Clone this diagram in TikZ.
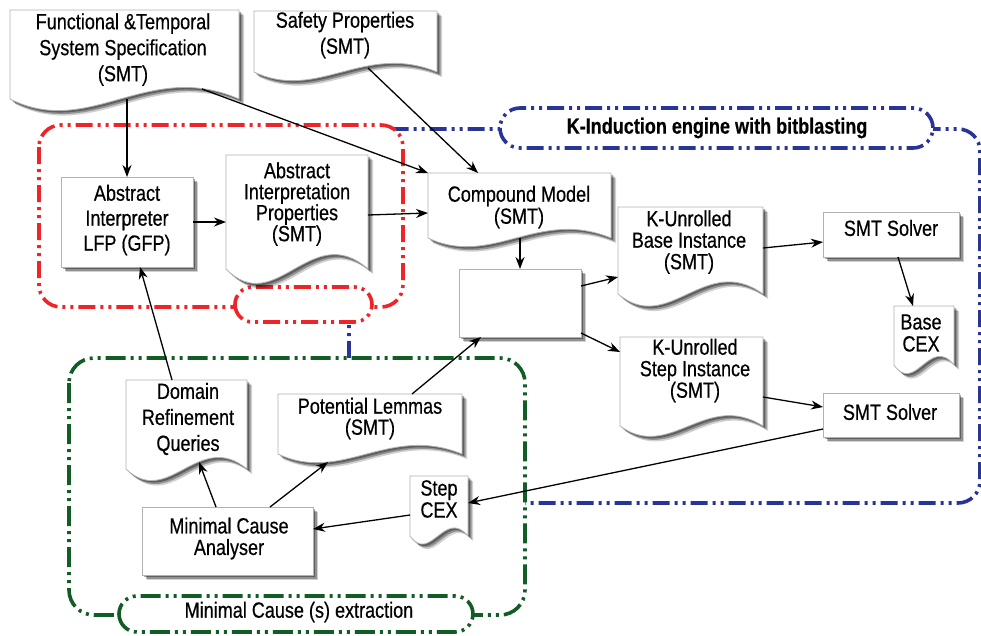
\documentclass[tikz,border=0pt]{standalone}
\usepackage{fontspec}
\setmainfont{Liberation Sans}[FakeStretch=0.82,FakeBold=0.5,BoldFeatures={FakeBold=0.4}]
\usetikzlibrary{shadows,arrows.meta,calc}
\pgfdeclarelayer{regions}
\pgfdeclarelayer{shapes}
\pgfsetlayers{regions,shapes,main}
\definecolor{regred}{RGB}{237,36,40}
\definecolor{regblue}{RGB}{40,52,150}
\definecolor{reggreen}{RGB}{18,92,38}
\tikzset{
  shp/.style={fill=white, draw=black!30, line width=0.8pt,
    drop shadow={shadow xshift=5pt, shadow yshift=-5pt, opacity=0.18, fill=black},
    drop shadow={shadow xshift=3.5pt, shadow yshift=-3.5pt, opacity=0.3, fill=black},
    drop shadow={shadow xshift=2pt, shadow yshift=-2pt, opacity=0.35, fill=black}},
  geo/.style={inner sep=0pt, outer sep=0pt, draw=none},
  rbox/.style={shp, inner sep=0pt, outer sep=0pt},
  txt/.style={align=center, inner sep=0pt, font=\fontsize{22}{#1}\selectfont},
  txt/.default=26,
  reg/.style={line width=3.6pt, dash pattern=on 17pt off 5pt on 3pt off 5pt on 3pt off 5pt},
  conn/.style={-{Stealth[length=12pt,width=9pt]}, line width=1.3pt, black},
}
\newcommand\docshape[2]{%
  \path[shp] (#1.north west) -- (#1.north east) -- (#1.south east)
    .. controls ($(#1.south east)!0.4!(#1.south west)+(0,-#2)$) and ($(#1.south east)!0.65!(#1.south west)+(0,#2)$) .. (#1.south west) -- cycle;}
\begin{document}
\begin{tikzpicture}[x=1pt,y=-1pt]
\useasboundingbox (0,0) rectangle (981,635);

% ---------- regions ----------
\begin{pgfonlayer}{regions}
  \draw[reg, regblue, rounded corners=22pt] (349,129) rectangle (980,503);
  \draw[reg, regblue, fill=white, rounded corners=20pt] (500,108) rectangle (933,148);
  \draw[reg, regred, fill=white, rounded corners=22pt] (39,125) rectangle (403,307);
  \draw[reg, regred, fill=white, rounded corners=17.5pt] (235,287) rectangle (372,322);
  \draw[reg, reggreen, fill=white, rounded corners=25pt, dash pattern=on 20pt off 5pt on 3pt off 5pt on 3pt off 5pt] (69,358) rectangle (525,615);
  \draw[reg, reggreen, fill=white, rounded corners=18pt, dash pattern=on 20pt off 5pt on 3pt off 5pt on 3pt off 5pt] (119,596) rectangle (473,632);
\end{pgfonlayer}
\node[txt, font=\fontsize{22}{26}\selectfont\bfseries] (klabel) at (717,128) {K-Induction engine with bitblasting};
\node[txt] (glabel) at (299,612) {Minimal Cause (s) extraction};

% ---------- rectangular boxes ----------
\node[rbox, minimum width=132pt, minimum height=90pt] (ai) at (127,222) {};
\node[rbox, minimum width=122pt, minimum height=68pt] (box) at (520,303) {};
\node[rbox, minimum width=136pt, minimum height=45pt] (smta) at (891,234.5) {};
\node[rbox, minimum width=136pt, minimum height=44pt] (smtb) at (891,415) {};
\node[rbox, minimum width=171pt, minimum height=68pt] (mca) at (227.5,541) {};

% ---------- document shapes (geometry) ----------
\node[geo, minimum width=229pt, minimum height=89pt] (ftss) at (124.5,54.5) {};
\node[geo, minimum width=183pt, minimum height=61pt] (sp) at (345.5,41.5) {};
\node[geo, minimum width=142pt, minimum height=114pt] (aip) at (297,212) {};
\node[geo, minimum width=183pt, minimum height=65pt] (cm) at (519.5,205.5) {};
\node[geo, minimum width=145pt, minimum height=87pt] (kub) at (690.5,250.5) {};
\node[geo, minimum width=143pt, minimum height=89pt] (kus) at (691.5,381.5) {};
\node[geo, minimum width=60pt, minimum height=59pt] (bcex) at (924,335.5) {};
\node[geo, minimum width=121pt, minimum height=89pt] (drq) at (186.5,424.5) {};
\node[geo, minimum width=184pt, minimum height=60pt] (pl) at (370,424) {};
\node[geo, minimum width=58pt, minimum height=60pt] (scex) at (439,506) {};

\begin{pgfonlayer}{shapes}
  \docshape{ftss}{40}
  \docshape{sp}{30}
  \docshape{aip}{50}
  \docshape{cm}{30}
  \docshape{kub}{42}
  \docshape{kus}{36}
  \docshape{bcex}{30}
  \docshape{drq}{40}
  \docshape{pl}{30}
  \docshape{scex}{28}
\end{pgfonlayer}

% ---------- texts ----------
\node[txt=26] (ftsst) at (123,49.5) {Functional \&Temporal\\System Specification\\(SMT)};
\node[txt=26] (spt) at (345,35) {Safety Properties\\(SMT)};
\node[txt=25] (ait) at (127,220) {Abstract\\Interpreter\\LFP (GFP)};
\node[txt=21] (aipt) at (297,204) {Abstract\\Interpretation\\Properties\\(SMT)};
\node[txt=22] (cmt) at (519,207) {Compound Model\\(SMT)};
\node[txt=21.5] (kubt) at (689,242) {K-Unrolled\\Base Instance\\(SMT)};
\node[txt] (smtat) at (891,228) {SMT Solver};
\node[txt=22] (bcext) at (921,333) {Base\\CEX};
\node[txt=21.5] (kust) at (695,370.5) {K-Unrolled\\Step Instance\\(SMT)};
\node[txt] (smtbt) at (890,412) {SMT Solver};
\node[txt=26] (drqt) at (188,419) {Domain\\Refinement\\Queries};
\node[txt=21] (plt) at (370,418.5) {Potential Lemmas\\(SMT)};
\node[txt=22] (scext) at (439,499) {Step\\CEX};
\node[txt=21.5] (mcat) at (229,538.5) {Minimal Cause\\Analyser};

% ---------- connectors ----------
\draw[conn] (ftss.south -| ai.north) -- (ai.north);
\draw[conn] ([xshift=77.5pt,yshift=10pt]ftss.south) -- (cm.north west);
\draw[conn] ([xshift=22.5pt,yshift=4pt]sp.south) -- ([xshift=-41.5pt]cm.north);
\draw[conn] (ai.east) -- (ai.east -| aip.west);
\draw[conn] ([yshift=-3pt]aip.east) -- ([yshift=-7.5pt]cm.west);
\draw[conn] (cm.south -| box.north) -- (box.north);
\draw[conn] ([yshift=17pt]box.east) -- ([yshift=-26.5pt]kub.west);
\draw[conn] ([yshift=-30pt]box.east) -- ([yshift=29.5pt]kus.west);
\draw[conn] ([yshift=2.5pt]kub.east) -- ([yshift=-7.5pt]smta.west);
\draw[conn] ([xshift=7pt]smta.south) -- ([xshift=-11pt]bcex.north);
\draw[conn] ([yshift=-15.5pt]kus.east) -- ([yshift=8pt]smtb.west);
\draw[conn] ([yshift=-14pt]smtb.west) -- ([yshift=3pt]scex.east);
\draw[conn] ([yshift=-9pt]scex.west) -- ([yshift=12pt]mca.east);
\draw[conn] ([xshift=-11.5pt]mca.north) -- ([xshift=12.5pt,yshift=7pt]drq.south);
\draw[conn] ([xshift=42.5pt]mca.north) -- ([xshift=-42pt,yshift=-8pt]pl.south);
\draw[conn] ([xshift=42pt]pl.north) -- ([xshift=-39pt]box.south);
\draw[conn] ([xshift=-14.5pt]drq.north) -- ([xshift=13pt]ai.south);
\end{tikzpicture}
\end{document}
